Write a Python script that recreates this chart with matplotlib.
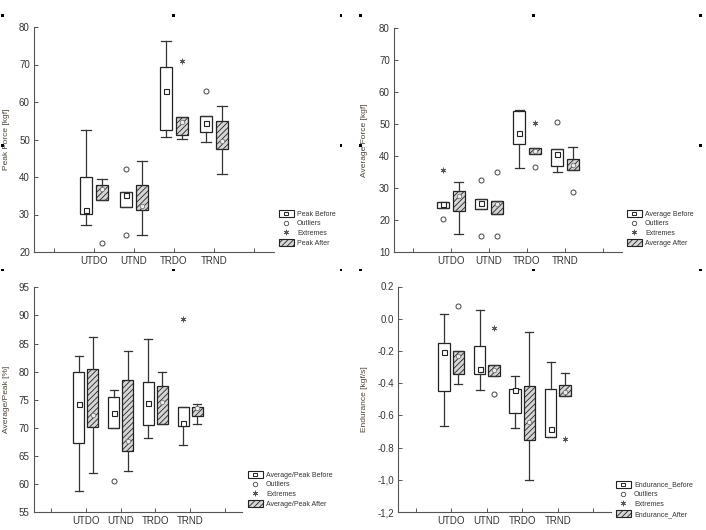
import numpy as np
import matplotlib
matplotlib.use("Agg")
from matplotlib import pyplot as plt
from matplotlib.patches import Patch, Rectangle
from matplotlib.lines import Line2D
from matplotlib.legend_handler import HandlerBase

plt.rcParams['font.family'] = ['Liberation Sans', 'DejaVu Sans']
plt.rcParams['hatch.linewidth'] = 0.6

groups = ["UTDO", "UTND", "TRDO", "TRND"]

# each row: whisker low, q1, median, q3, whisker high
peak_before = [[27.3, 30.2, 31.1, 40.0, 52.6],
               [32.0, 32.0, 35.3, 35.9, 35.9],
               [50.8, 52.6, 63.0, 69.3, 76.4],
               [49.3, 52.1, 54.4, 56.3, 56.3]]
peak_after = [[33.9, 33.9, 36.9, 37.9, 39.6],
              [24.5, 31.2, 32.2, 37.9, 44.2],
              [50.1, 51.2, 54.8, 56.1, 56.1],
              [40.8, 47.5, 49.5, 55.0, 59.0]]
peak_before_out = [[], [42.2, 24.6], [], [63.0]]
peak_after_out = [[22.3], [], [], []]
peak_before_ext = [[], [], [], []]
peak_after_ext = [[], [], [70.9], []]

avg_before = [[23.7, 23.7, 25.0, 25.6, 25.6],
              [23.5, 23.5, 25.3, 26.6, 26.6],
              [36.2, 43.7, 47.1, 54.0, 54.4],
              [35.1, 37.0, 40.5, 42.1, 42.1]]
avg_after = [[15.6, 23.0, 27.4, 29.2, 31.8],
             [21.8, 21.8, 25.1, 26.0, 26.0],
             [40.5, 40.5, 41.6, 42.4, 42.4],
             [35.7, 35.7, 37.2, 39.0, 42.9]]
avg_before_out = [[20.4], [32.5, 15.0], [], [50.5]]
avg_after_out = [[], [34.9, 15.2], [36.7], [28.9]]
avg_before_ext = [[35.7], [], [], []]
avg_after_ext = [[], [], [50.4], []]

ratio_before = [[58.8, 67.4, 74.3, 80.0, 82.8],
                [70.0, 70.0, 72.6, 75.5, 76.8],
                [68.2, 70.6, 74.5, 78.2, 85.8],
                [67.0, 70.4, 70.9, 73.8, 73.8]]
ratio_after = [[62.0, 70.2, 72.3, 80.4, 86.2],
               [62.4, 65.9, 67.6, 78.5, 83.6],
               [70.7, 70.7, 74.6, 77.5, 80.0],
               [70.7, 72.2, 73.5, 73.8, 74.3]]
ratio_before_out = [[], [60.6], [], []]
ratio_after_out = [[], [], [], []]
ratio_before_ext = [[], [], [], [89.4]]
ratio_after_ext = [[], [], [], []]

end_before = [[-0.668, -0.447, -0.204, -0.153, 0.029],
              [-0.445, -0.344, -0.313, -0.171, 0.054],
              [-0.678, -0.586, -0.441, -0.437, -0.353],
              [-0.734, -0.734, -0.685, -0.437, -0.270]]
end_after = [[-0.406, -0.344, -0.231, -0.202, -0.202],
             [-0.357, -0.357, -0.318, -0.289, -0.289],
             [-1.000, -0.751, -0.641, -0.417, -0.085],
             [-0.478, -0.478, -0.458, -0.410, -0.334]]
end_before_out = [[], [], [], []]
end_after_out = [[0.078], [-0.466], [], []]
end_before_ext = [[], [], [], []]
end_after_ext = [[], [-0.058], [], [-0.746]]

W, H = 706, 530
INK = '#333333'
HATCH_FC = '#d6d6d6'
EXT_MARKER = (6, 2, 0)


def px_axes(fig, left, right, top, bottom):
    return fig.add_axes([left / W, 1 - bottom / H, (right - left) / W, (bottom - top) / H])


def stats(rows, outs):
    res = []
    for r, o in zip(rows, outs):
        res.append(dict(whislo=r[0], q1=r[1], med=r[2], mean=r[2],
                        q3=r[3], whishi=r[4], fliers=o))
    return res


def draw_boxes(ax, rows, outs, exts, pos, after):
    line = dict(color=INK, linewidth=0.9)
    if after:
        box = dict(facecolor=HATCH_FC, edgecolor='#222222', hatch='//////', linewidth=0.9)
        mean = dict(marker='o', markersize=3.2, markerfacecolor='#eeeeee',
                    markeredgecolor='#777777', markeredgewidth=0.6)
    else:
        box = dict(facecolor='white', edgecolor='#222222', linewidth=0.9)
        mean = dict(marker='s', markersize=3.6, markerfacecolor='white',
                    markeredgecolor='#222222', markeredgewidth=0.8)
    ax.bxp(stats(rows, outs), positions=pos, widths=0.32, capwidths=0.23,
           showmeans=True, patch_artist=True, boxprops=box,
           whiskerprops=line, capprops=line, meanprops=mean,
           medianprops=dict(linewidth=0),
           flierprops=dict(marker='o', markersize=3.6, markerfacecolor='white',
                           markeredgecolor='#444444', markeredgewidth=0.7))
    for p, e in zip(pos, exts):
        if e:
            ax.plot([p] * len(e), e, ls='none', marker=EXT_MARKER, ms=4,
                    mew=0.6, color='#555555')


def panel(ax, before, after, b_out, a_out, b_ext, a_ext, ylim, yticks, ytlabels,
          ylabel, label_x):
    pos = np.arange(1, len(groups) + 1)
    draw_boxes(ax, before, b_out, b_ext, pos - 0.2, False)
    draw_boxes(ax, after, a_out, a_ext, pos + 0.2, True)
    ax.set_xlim(-0.5, 5.5)
    ax.set_ylim(*ylim)
    ax.set_xticks(range(0, 6))
    ax.set_xticklabels([''] + groups + [''])
    ax.set_yticks(yticks)
    ax.set_yticklabels(ytlabels)
    for s in ('top', 'right'):
        ax.spines[s].set_visible(False)
    for s in ('left', 'bottom'):
        ax.spines[s].set_color('#555555')
        ax.spines[s].set_linewidth(0.8)
    ax.tick_params(direction='in', length=3, width=0.7, color='#555555',
                   labelsize=7, labelcolor=INK, pad=3)
    ax.set_ylabel(ylabel, fontsize=6, color='#4d4438')
    ax.yaxis.set_label_coords(label_x, 0.5)


# legend symbol: open box with the small median square inside
class BoxMedianHandler(HandlerBase):
    def create_artists(self, legend, orig_handle, xdescent, ydescent,
                       width, height, fontsize, trans):
        rect = Rectangle((-xdescent, -ydescent), width, height, facecolor='white',
                         edgecolor='#222222', linewidth=0.8, transform=trans)
        s = height * 0.55
        sq = Rectangle((-xdescent + width / 2 - s / 2, -ydescent + height / 2 - s / 2),
                       s, s, facecolor='white', edgecolor='#222222', linewidth=0.7,
                       transform=trans)
        return [rect, sq]


def legend(fig, x, y, before_label, after_label):
    hb = Patch(facecolor='white', edgecolor='#222222')
    ho = Line2D([], [], ls='none', marker='o', ms=3.2, mfc='white', mec='#444444', mew=0.6)
    he = Line2D([], [], ls='none', marker=EXT_MARKER, ms=4, mew=0.5, color='#555555')
    ha = Patch(facecolor=HATCH_FC, edgecolor='#222222', hatch='//////', linewidth=0.8)
    fig.legend([hb, ho, he, ha], [before_label, 'Outliers', 'Extremes', after_label],
               loc='upper left', bbox_to_anchor=(x / W, 1 - y / H), frameon=False,
               fontsize=5, handler_map={hb: BoxMedianHandler()},
               handlelength=2.1, handleheight=1.1, labelspacing=0.3,
               handletextpad=0.5, borderpad=0, borderaxespad=0,
               labelcolor='#333333')


fig = plt.figure(figsize=(W / 100, H / 100), dpi=100)

ax1 = px_axes(fig, 34, 274, 27, 252)
panel(ax1, peak_before, peak_after, peak_before_out, peak_after_out,
      peak_before_ext, peak_after_ext, (20, 80), range(20, 81, 10),
      [str(v) for v in range(20, 81, 10)], 'Peak Force [kgf]', -0.1)
legend(fig, 279, 210, 'Peak Before', 'Peak After')

ax2 = px_axes(fig, 394, 622, 27.7, 252.3)
panel(ax2, avg_before, avg_after, avg_before_out, avg_after_out,
      avg_before_ext, avg_after_ext, (10, 80), range(10, 81, 10),
      [str(v) for v in range(10, 81, 10)], 'Average Force [kgf]', -0.114)
legend(fig, 627, 210, 'Average Before', 'Average After')

ax3 = px_axes(fig, 33.6, 242.4, 287.3, 512.3)
panel(ax3, ratio_before, ratio_after, ratio_before_out, ratio_after_out,
      ratio_before_ext, ratio_after_ext, (55, 95), range(55, 96, 5),
      [str(v) for v in range(55, 96, 5)], 'Average/Peak [%]', -0.113)
legend(fig, 248, 471, 'Average/Peak Before', 'Average/Peak After')

end_ticks = [-1.2, -1.0, -0.8, -0.6, -0.4, -0.2, 0.0, 0.2]
end_tick_labels = ['-1,2', '-1,0', '-0.8', '-0.6', '-0.4', '-0.2', '0.0', '0.2']
ax4 = px_axes(fig, 398, 611, 286.5, 512)
panel(ax4, end_before, end_after, end_before_out, end_after_out,
      end_before_ext, end_after_ext, (-1.2, 0.2), end_ticks, end_tick_labels,
      'Endurance [kgf/s]', -0.14)
legend(fig, 616, 481, 'Endurance_Before', 'Endurance_After')

# graph selection handles around each panel
handles_px = [(2, 16), (173, 16), (341, 16), (2, 146), (341, 146),
              (360, 16), (533, 16), (700, 16), (360, 146), (700, 146),
              (2, 270), (173, 270), (341, 270),
              (360, 270), (533, 270), (700, 270)]
for hx, hy in handles_px:
    fig.add_artist(Rectangle((hx / W - 1 / W, 1 - hy / H - 1 / H), 2.5 / W, 2.5 / H,
                             transform=fig.transFigure, color='black', lw=0))

fig.savefig("out.png", dpi=100)
